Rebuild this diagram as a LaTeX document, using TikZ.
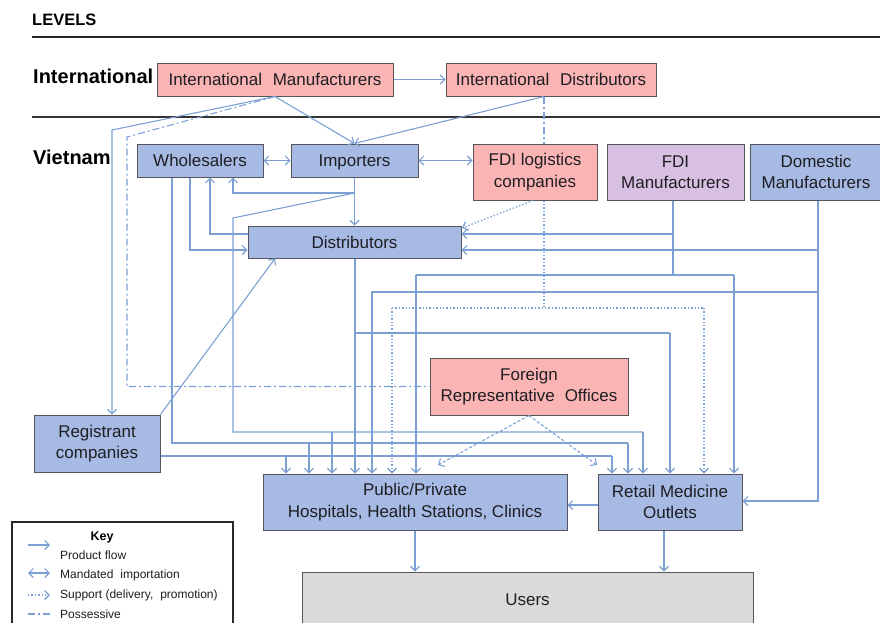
\documentclass[tikz,border=0pt]{standalone}
\usepackage{fontspec}
\setmainfont{Liberation Sans}
\usetikzlibrary{arrows.meta}
\definecolor{lb}{RGB}{125,160,212}
\definecolor{boxblue}{RGB}{166,186,228}
\definecolor{boxpink}{RGB}{250,180,180}
\definecolor{boxlav}{RGB}{216,192,226}
\definecolor{boxgray}{RGB}{218,218,218}
\definecolor{bord}{RGB}{85,85,90}
\definecolor{txt}{RGB}{30,30,35}
\begin{document}
\begin{tikzpicture}[x=1pt,y=-1pt,
  box/.style={draw=bord, line width=1pt, inner sep=0pt, align=center,
    font=\fontsize{17}{21.5}\selectfont, text=txt},
  oneline/.style={text height=12.2pt, text depth=0pt},
  bbox/.style={box, fill=boxblue},
  pbox/.style={box, fill=boxpink},
  lbox/.style={box, fill=boxlav},
  gbox/.style={box, fill=boxgray},
  lvl/.style={font=\fontsize{20}{22}\selectfont\bfseries, text=black, inner sep=0pt, anchor=west},
  tip/.tip={Straight Barb[length=4.5pt,width=9pt]},
  fl/.style={draw=lb, line width=1.1pt},
  flow/.style={fl, -tip},
  both/.style={fl, tip-tip},
  supp/.style={fl, line width=1.3pt, dash pattern=on 1.4pt off 2pt},
  supparrow/.style={supp, -tip},
  frsupp/.style={fl, dash pattern=on 3pt off 2pt, -tip},
  poss/.style={fl, dash pattern=on 7pt off 3pt on 2pt off 3pt},
  keytxt/.style={font=\fontsize{12}{14}\selectfont, text=txt, inner sep=0pt, anchor=west},
]
\useasboundingbox (0,0) rectangle (880,622);
\clip (0,0) rectangle (880,622);

% level headings and rules
\node[lvl, font=\fontsize{16.5}{18}\selectfont\bfseries] (levels) at (32,20) {LEVELS};
\draw[line width=2.6pt, black!85] (32,37) coordinate (r1a) -- (880,37) coordinate (r1b);
\draw[line width=1.6pt, black!80] (32,117) coordinate (r2a) -- (880,117) coordinate (r2b);
\node[lvl] (intl) at (33,76) {International};
\node[lvl] (viet) at (33,157) {Vietnam};

% boxes
\node[pbox, oneline, minimum width=236, minimum height=33] (im) at (275,79.5) {International\hspace{0.35em} Manufacturers};
\node[pbox, oneline, minimum width=210, minimum height=33] (id) at (551,79.5) {International\hspace{0.35em} Distributors};
\node[bbox, oneline, minimum width=126, minimum height=33] (wh) at (200,160.5) {Wholesalers};
\node[bbox, oneline, minimum width=127, minimum height=33] (imp) at (354.5,160.5) {Importers};
\node[pbox, minimum width=124, minimum height=56] (fdil) at (535,172) {FDI logistics\\companies};
\node[lbox, minimum width=137, minimum height=56] (fdim) at (675.5,172) {FDI\\Manufacturers};
\node[bbox, minimum width=132, minimum height=56] (dom) at (816,172) {Domestic\\Manufacturers};
\node[bbox, oneline, minimum width=213, minimum height=32] (dist) at (354.5,242) {Distributors};
\node[bbox, minimum width=126, minimum height=57] (reg) at (97,443.5) {Registrant\\companies};
\node[pbox, minimum width=198, minimum height=57] (fro) at (529,386.5) {Foreign\\Representative\hspace{0.3em} Offices};
\node[bbox, minimum width=304, minimum height=56] (hosp) at (415,502) {Public/Private\\Hospitals, Health Stations, Clinics};
\node[bbox, minimum width=144, minimum height=56] (ret) at (670,502) {Retail Medicine\\Outlets};
\node[gbox, oneline, minimum width=451, minimum height=54] (users) at (527.5,599) {Users};

% international level
\draw[flow] (im.east) -- (id.west);
\draw[flow] (im.south) -- (imp.north);
\draw[flow] ([xshift=-7pt]id.south) -- (imp.north);
\draw[flow] (im.south) -- (112,130) -- (112,0 |- reg.north);
\draw[poss] (im.south) -- (127,137) -- (127,0 |- fro.west) -- (fro.west);
\draw[poss] ([xshift=-7pt]id.south) -- ([xshift=-7pt]id.south |- fdil.north);

% mandated importation
\draw[both] (wh.east) -- (imp.west);
\draw[both] (imp.east) -- (imp.east -| fdil.west);

% importers
\draw[flow] (imp.south) -- (dist.north);
\draw[flow] (354.5,193) -- (233,193) -- (233,0 |- wh.south);
\draw[fl] (354.5,193) -- (233,218) -- (233,432) -- (643,432);
\draw[flow] (643,432) -- (643,0 |- ret.north);
\draw[flow] (332,432) -- (332,0 |- hosp.north);

% wholesalers / distributors
\draw[flow] (dist.west |- 0,234) -- (210,234) -- (210,0 |- wh.south);
\draw[flow] (190,0 |- wh.south) -- (190,250) -- (dist.west |- 0,250);
\draw[fl] (172,0 |- wh.south) -- (172,443) -- (628,443);
\draw[flow] (628,443) -- (628,0 |- ret.north);
\draw[flow] (309,443) -- (309,0 |- hosp.north);

% registrant companies
\draw[fl] (reg.east |- 0,456) -- (612,456);
\draw[flow] (612,456) -- (612,0 |- ret.north);
\draw[flow] (286,456) -- (286,0 |- hosp.north);
\draw[flow] (reg.north east) -- (275,0 |- dist.south);

% distributors down
\draw[flow] (355,0 |- dist.south) -- (355,0 |- hosp.north);
\draw[fl] (355,333) -- (670,333);
\draw[flow] (670,333) -- (670,0 |- ret.north);

% FDI logistics support
\draw[supparrow] (533,0 |- fdil.south) -- (462,228);
\draw[supp] (544,0 |- fdil.south) -- (544,308);
\draw[supp] (392,308) -- (704,308);
\draw[supparrow] (392,308) -- (392,0 |- hosp.north);
\draw[supparrow] (704,308) -- (704,0 |- ret.north);

% FDI manufacturers
\draw[fl] (673,0 |- fdim.south) -- (673,275);
\draw[flow] (673,234) -- (dist.east |- 0,234);
\draw[fl] (416,275) -- (734,275);
\draw[flow] (416,275) -- (416,0 |- hosp.north);
\draw[flow] (734,275) -- (734,0 |- ret.north);

% domestic manufacturers
\draw[flow] (818,0 |- dom.south) -- (818,501) -- (ret.east |- 0,501);
\draw[flow] (818,250) -- (dist.east |- 0,250);
\draw[flow] (818,292) -- (372,292) -- (372,0 |- hosp.north);

% foreign representative offices
\draw[frsupp] (fro.south) -- (438,465);
\draw[frsupp] (fro.south) -- (597,465);

% lower flows
\draw[flow] (ret.west |- 0,505) -- (hosp.east |- 0,505);
\draw[flow] (hosp.south) -- (hosp.south |- users.north);
\draw[flow] (664,0 |- ret.south) -- (664,0 |- users.north);

% key
\draw[line width=1.5pt, black!85, fill=white] (12,522) rectangle (233,640);
\node[font=\fontsize{12.5}{14}\selectfont\bfseries, inner sep=0pt] (keyt) at (102,537) {Key};
\coordinate (k1a) at (28,545); \coordinate (k1b) at (50,545);
\draw[flow] (k1a) -- (k1b);
\node[keytxt] (k1) at (60,555) {Product flow};
\coordinate (k2a) at (28,573); \coordinate (k2b) at (50,573);
\draw[both] (k2a) -- (k2b);
\node[keytxt] (k2) at (60,575) {Mandated\hspace{0.3em} importation};
\coordinate (k3a) at (28,595); \coordinate (k3b) at (50,595);
\draw[supparrow] (k3a) -- (k3b);
\node[keytxt] (k3) at (60,595) {Support (delivery,\hspace{0.3em} promotion)};
\coordinate (k4a) at (28,614); \coordinate (k4b) at (50,614);
\draw[poss] (k4a) -- (k4b);
\node[keytxt] (k4) at (60,614) {Possessive};
\end{tikzpicture}
\end{document}
